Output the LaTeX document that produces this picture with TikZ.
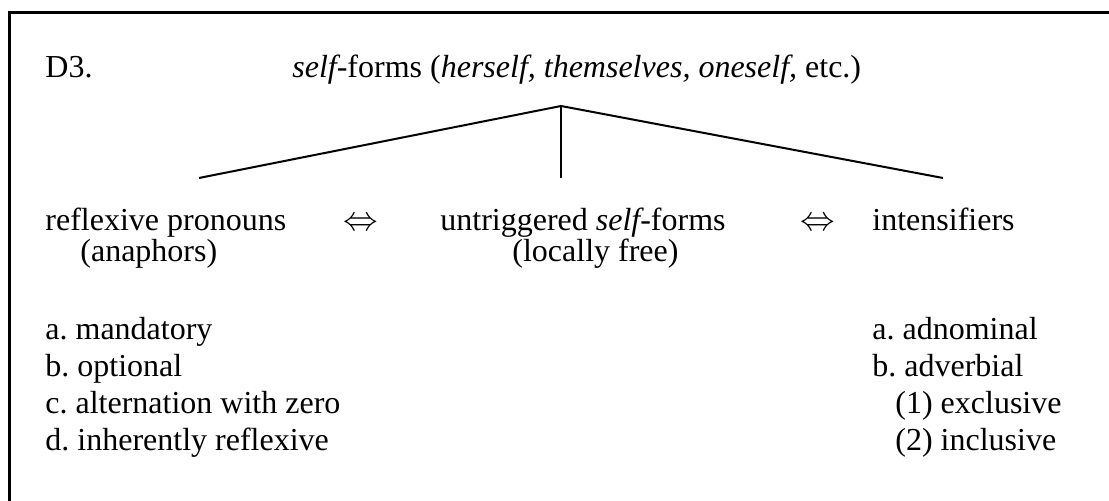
\documentclass[tikz,border=0pt]{standalone}
\usepackage{fontspec}
\setmainfont{Liberation Serif}
\usetikzlibrary{positioning}
\frenchspacing
\begin{document}
\begin{tikzpicture}[x=0.5pt,y=-0.5pt,
	txt/.style={anchor=base west,inner sep=0pt,font=\fontsize{16}{18.5}\selectfont},
	branch/.style={line width=1pt}]
	\useasboundingbox (0,0) rectangle (1109,501);
	\clip (0,0) rectangle (1109,501);
	\draw[line width=1.5pt](9,520)--(9,12.5)--(1130,12.5);
	% heading
	\node[txt] (label) at (45,78) {D3.};
	\node[txt] (title) at (292,78) {{\itshape self}-forms ({\itshape herself, themselves, oneself,} etc.)};
	% tree
	\coordinate (top) at (561,106);
	\coordinate (lft) at (199,178);
	\coordinate (mid) at (561,178);
	\coordinate (rgt) at (943,178);
	\draw[branch](lft)--(top)--(rgt);
	\draw[branch](top)--(mid);
	% the three kinds
	\node[txt] (refl) at (45,231) {reflexive pronouns};
	\node[txt] (ana) at (80,262) {(anaphors)};
	\node[txt] (eqa) at (343,231) {$\Leftrightarrow$};
	\node[txt] (untr) at (440,231) {untriggered {\itshape self}-forms};
	\node[txt] (free) at (512,262) {(locally free)};
	\node[txt] (eqb) at (800,231) {$\Leftrightarrow$};
	\node[txt] (ints) at (872,231) {intensifiers};
	% subtypes
	\foreach \t [count=\i] in {a. mandatory,b. optional,c. alternation with zero,d. inherently reflexive} {
		\node[txt] (sub\i) at (45,303+37*\i) {\t};
	}
	\node[txt] (ina) at (872,340) {a. adnominal};
	\node[txt] (inb) at (872,377) {b. adverbial};
	\node[txt] (inc) at (895,414) {(1) exclusive};
	\node[txt] (ind) at (895,451) {(2) inclusive};
\end{tikzpicture}
\end{document}
